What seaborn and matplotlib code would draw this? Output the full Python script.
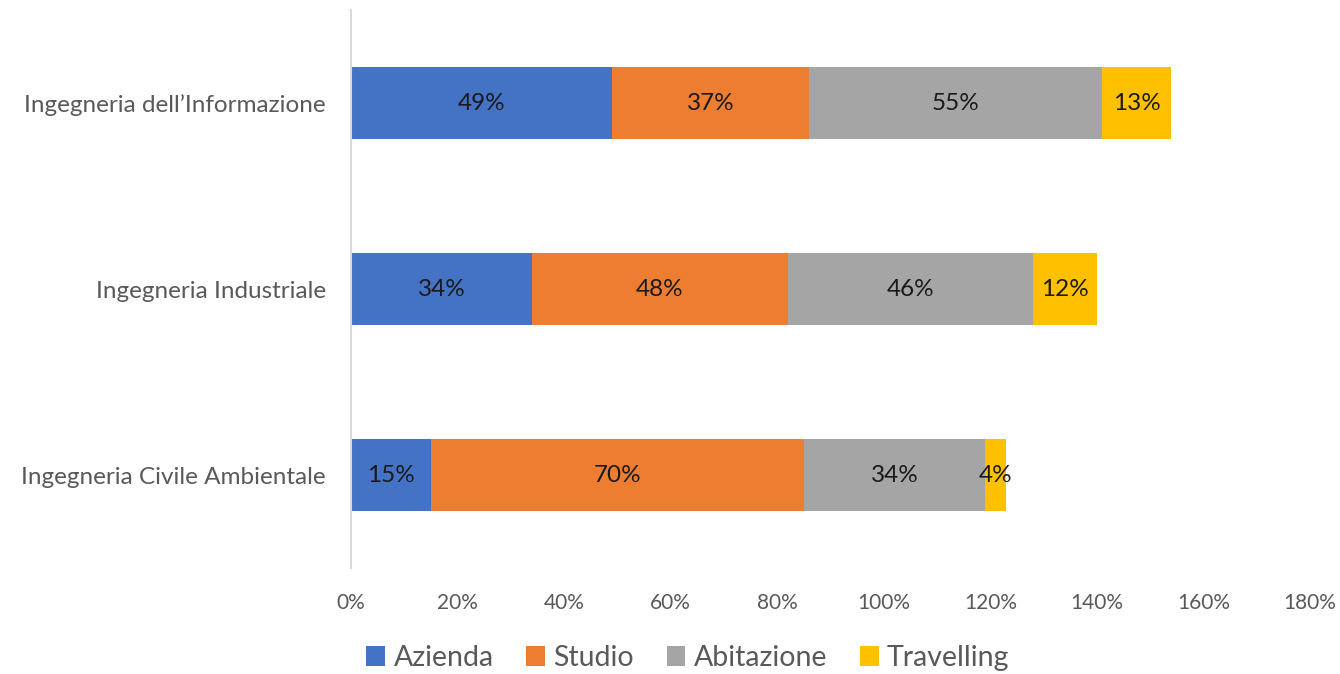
import numpy as np
import pandas as pd
import matplotlib.pyplot as plt
import seaborn as sns
from matplotlib.patches import Patch

# Data (percentages)
categories = ["Ingegneria dell\u2019Informazione", "Ingegneria Industriale", "Ingegneria Civile Ambientale"]
series = ["Azienda", "Studio", "Abitazione", "Travelling"]
azienda = [49, 34, 15]
studio = [37, 48, 70]
abitazione = [55, 46, 34]
travelling = [13, 12, 4]
colors = ["#4472C4", "#ED7D31", "#A5A5A5", "#FFC000"]
xticks = [0, 20, 40, 60, 80, 100, 120, 140, 160, 180]

sns.set_style("white")
plt.rcParams['font.family'] = ['Lato', 'DejaVu Sans']

values = np.array([azienda, studio, abitazione, travelling])
cum = values.cumsum(axis=0)

fig = plt.figure(figsize=(13.4, 6.74), dpi=100)
ax = fig.add_axes([351 / 1340, 1 - 568 / 674, (1310 - 351) / 1340, 558 / 674])

# stacked bars: draw cumulative totals from the largest down
for i in range(len(series) - 1, -1, -1):
    df = pd.DataFrame({"cat": categories, "val": cum[i]})
    sns.barplot(data=df, x="val", y="cat", orient="h", color=colors[i],
                width=0.39, saturation=1, ax=ax, edgecolor="none")

# data labels in the middle of each segment
for i in range(len(series)):
    for j in range(len(categories)):
        start = cum[i][j] - values[i][j]
        ax.text(start + values[i][j] / 2, j, f"{values[i][j]}%", ha="center", va="center",
                fontsize=17.5, color="#1a1a1a")

ax.set_xlim(0, 180)
ax.set_ylim(2.5, -0.5)
ax.set_xticks(xticks)
ax.set_xticklabels([f"{t}%" for t in xticks], fontsize=15, color="#595959")
ax.tick_params(axis="y", labelsize=17.5, labelcolor="#595959", length=0, pad=18)
ax.tick_params(axis="x", length=0, pad=18)
ax.set_xlabel("")
ax.set_ylabel("")
for s in ["top", "right", "bottom"]:
    ax.spines[s].set_visible(False)
ax.spines["left"].set_color("#D9D9D9")
ax.spines["left"].set_linewidth(1.5)

handles = [Patch(facecolor=c, edgecolor="none") for c in colors]
fig.legend(handles, series, loc="center", bbox_to_anchor=(688 / 1340, 1 - 658 / 674), ncol=4,
           frameon=False, fontsize=20.5, labelcolor="#595959", handlelength=0.65, handleheight=0.65,
           handletextpad=0.3, columnspacing=1.15)

fig.savefig("out.png", dpi=100)
